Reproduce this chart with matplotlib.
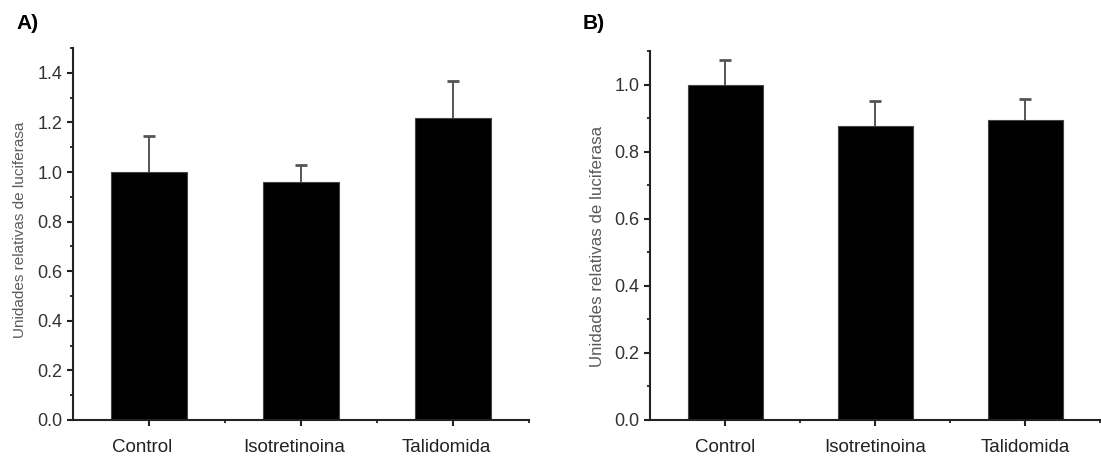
import matplotlib.pyplot as plt
import matplotlib.transforms as mtransforms
import numpy as np

plt.rcParams['font.family'] = ['Liberation Sans', 'DejaVu Sans']

# Datos
categorias = ["Control", "Isotretinoina", "Talidomida"]
valores_a = [1.0, 0.96, 1.218]
error_a = [0.145, 0.068, 0.149]
valores_b = [1.0, 0.875, 0.894]
error_b = [0.073, 0.076, 0.064]

etiqueta_y = "Unidades relativas de luciferasa"

fig = plt.figure(figsize=(11.01, 4.63), dpi=100, facecolor='white')
ax_a = fig.add_axes([0.0663, 0.0929, 0.4140, 0.8034])
ax_b = fig.add_axes([0.5904, 0.0929, 0.4087, 0.7970])


def dibujar_panel(ax, valores, errores, ymax, paso, label_y, label_size, desplazamiento):
    x = np.arange(len(categorias))
    ax.bar(x, valores, width=0.5, color='black', edgecolor='#444444', linewidth=0.8, zorder=2)
    _, caps, _ = ax.errorbar(x, valores, yerr=[np.zeros(len(errores)), errores], fmt='none',
                             ecolor='#555555', elinewidth=1.4, capsize=4, capthick=2.0, zorder=1)
    caps[0].set_visible(False)  # solo la barra de error superior
    ax.set_xlim(-0.5, 2.5)
    ax.set_ylim(0, ymax)
    ax.set_xticks(x)
    ax.set_xticklabels(categorias, fontsize=13.5, color='#222222')
    ax.set_xticks([0.5, 1.5, 2.5], minor=True)
    ax.set_yticks(np.arange(0, ymax + 1e-9, paso))
    ax.set_yticks(np.arange(0, ymax + 1e-9, paso / 2), minor=True)
    ax.yaxis.set_major_formatter(plt.FormatStrFormatter('%.1f'))
    ax.tick_params(axis='y', labelsize=13, labelcolor='#333333', pad=3)
    ax.tick_params(which='major', direction='out', length=4.5, width=1.5, color='#222222')
    ax.tick_params(which='minor', direction='out', length=2.5, width=1.3, color='#222222')
    ax.tick_params(axis='x', which='both', pad=9)
    if desplazamiento:
        offset = mtransforms.ScaledTranslation(desplazamiento / 100, 0, fig.dpi_scale_trans)
        for lab in ax.get_xticklabels():
            lab.set_transform(lab.get_transform() + offset)
    for lado in ['top', 'right']:
        ax.spines[lado].set_visible(False)
    for lado in ['left', 'bottom']:
        ax.spines[lado].set_linewidth(1.5)
        ax.spines[lado].set_color('#222222')
    ax.set_ylabel(etiqueta_y, fontsize=label_size, color='#5a5a5a')
    ax.yaxis.set_label_coords(label_y[0], label_y[1])


dibujar_panel(ax_a, valores_a, error_a, 1.5, 0.2, (-0.100, 0.51), 11, -7)
dibujar_panel(ax_b, valores_b, error_b, 1.1, 0.2, (-0.100, 0.47), 12.2, 0)

fig.text(0.015, 0.950, "A)", fontsize=15, fontweight='bold', va='center')
fig.text(0.529, 0.950, "B)", fontsize=15, fontweight='bold', va='center')

plt.savefig("out.png", dpi=100)
plt.close()
